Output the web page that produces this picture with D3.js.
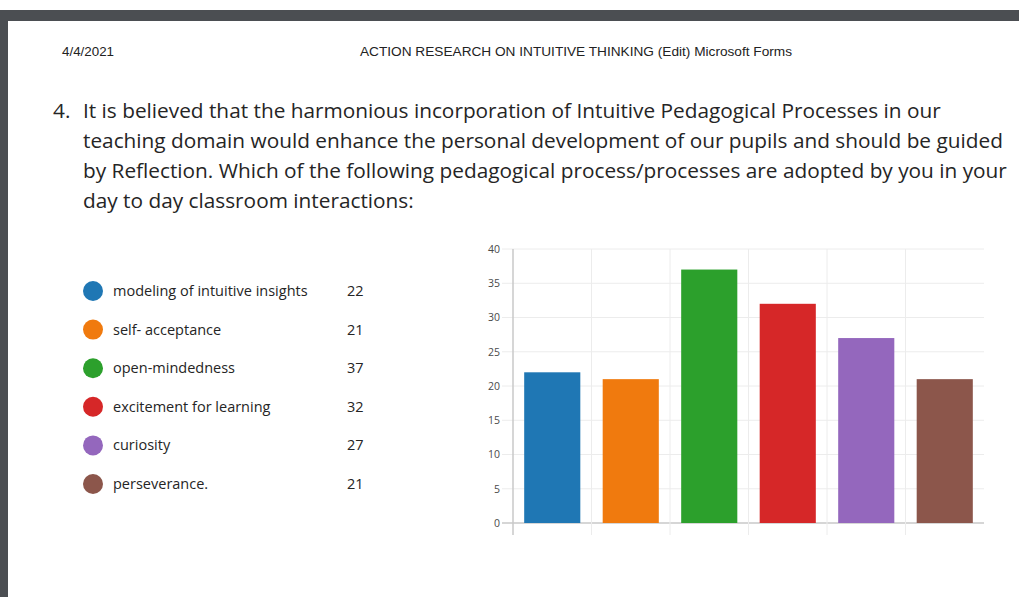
<!DOCTYPE html>
<html>
<head>
<meta charset="utf-8">
<script src="https://cdn.jsdelivr.net/npm/d3@7"></script>
<style>
  body { margin: 0; background: #fff; }
  svg { display: block; }
</style>
</head>
<body>
<div id="chart"></div>
<script>
const categories = [
  'modeling of intuitive insights',
  'self- acceptance',
  'open-mindedness',
  'excitement for learning',
  'curiosity',
  'perseverance.'
];
const counts = [22, 21, 37, 32, 27, 21];
const colors = ['#1f77b4', '#f07a0e', '#2ca02c', '#d62728', '#9467bd', '#8c564b'];
const yTicks = [0, 5, 10, 15, 20, 25, 30, 35, 40];
const questionLines = [
  'It is believed that the harmonious incorporation of Intuitive Pedagogical Processes in our',
  'teaching domain would enhance the personal development of our pupils and should be guided',
  'by Reflection. Which of the following pedagogical process/processes are adopted by you in your',
  'day to day classroom interactions:'
];

const width = 1019, height = 597;
const svg = d3.select('#chart').append('svg')
  .attr('width', width)
  .attr('height', height);

// page frame (dark border of the pdf viewer)
svg.append('rect').attr('x', 0).attr('y', 10).attr('width', width).attr('height', 11).attr('fill', '#4b4e52');
svg.append('rect').attr('x', 0).attr('y', 10).attr('width', 8).attr('height', height - 10).attr('fill', '#4b4e52');

// header
svg.append('text')
  .attr('x', 62).attr('y', 56)
  .attr('font-family', 'Liberation Sans, Arial')
  .attr('font-size', 12.5)
  .attr('fill', '#222')
  .attr('textLength', 52)
  .attr('lengthAdjust', 'spacingAndGlyphs')
  .text('4/4/2021');
svg.append('text')
  .attr('x', 360).attr('y', 56)
  .attr('font-family', 'Liberation Sans, Arial')
  .attr('font-size', 12.5)
  .attr('fill', '#222')
  .attr('textLength', 432)
  .attr('lengthAdjust', 'spacingAndGlyphs')
  .text('ACTION RESEARCH ON INTUITIVE THINKING (Edit) Microsoft Forms');

// question
const q = svg.append('g')
  .attr('font-family', 'Open Sans, Noto Sans, sans-serif')
  .attr('font-size', 20.8)
  .attr('fill', '#252525');
q.append('text').attr('x', 53).attr('y', 118).text('4.');
q.selectAll('text.line')
  .data(questionLines)
  .join('text')
  .attr('class', 'line')
  .attr('x', 83)
  .attr('y', (d, i) => 118 + i * 30)
  .text(d => d);

// legend
const legend = svg.append('g')
  .attr('font-family', 'Open Sans, Noto Sans, sans-serif')
  .attr('font-size', 14.5)
  .attr('fill', '#252525');
const row = legend.selectAll('g')
  .data(categories)
  .join('g')
  .attr('transform', (d, i) => `translate(0,${291 + i * 38.6})`);
row.append('circle')
  .attr('cx', 93).attr('cy', 0).attr('r', 10)
  .attr('fill', (d, i) => colors[i]);
row.append('text')
  .attr('x', 113).attr('dy', '0.35em')
  .text(d => d);
row.append('text')
  .attr('x', 347).attr('dy', '0.35em')
  .text((d, i) => counts[i]);

// bar chart
const margin = { left: 513, right: 1019 - 984, top: 249, bottom: 597 - 523 };
const x = d3.scaleBand()
  .domain(categories)
  .range([margin.left, width - margin.right])
  .paddingInner(0.285)
  .paddingOuter(0.1425);
const y = d3.scaleLinear()
  .domain([0, 40])
  .range([height - margin.bottom, margin.top]);

const grid = svg.append('g');
grid.selectAll('line.h')
  .data(yTicks)
  .join('line')
  .attr('class', 'h')
  .attr('x1', margin.left - 11)
  .attr('x2', width - margin.right)
  .attr('y1', d => y(d))
  .attr('y2', d => y(d))
  .attr('stroke', d => d === 0 ? '#c8c8c8' : '#ececec')
  .attr('stroke-width', d => d === 0 ? 1.5 : 1);

const colW = (width - margin.right - margin.left) / categories.length;
grid.selectAll('line.v')
  .data(d3.range(categories.length))
  .join('line')
  .attr('class', 'v')
  .attr('x1', d => margin.left + d * colW)
  .attr('x2', d => margin.left + d * colW)
  .attr('y1', y(40))
  .attr('y2', y(0) + 12)
  .attr('stroke', d => d === 0 ? '#c8c8c8' : '#ececec')
  .attr('stroke-width', d => d === 0 ? 1.5 : 1);

const yAxis = d3.axisLeft(y).tickValues(yTicks).tickSize(0).tickPadding(13);
svg.append('g')
  .attr('transform', `translate(${margin.left},0)`)
  .call(yAxis)
  .call(g => g.select('.domain').remove())
  .call(g => g.selectAll('text')
    .attr('font-family', 'Open Sans, Noto Sans, sans-serif')
    .attr('font-size', 10.5)
    .attr('fill', '#4a4a4a'));

svg.append('g')
  .selectAll('rect')
  .data(categories)
  .join('rect')
  .attr('x', d => x(d))
  .attr('width', x.bandwidth())
  .attr('y', (d, i) => y(counts[i]))
  .attr('height', (d, i) => y(0) - y(counts[i]))
  .attr('fill', (d, i) => colors[i]);
</script>
</body>
</html>
